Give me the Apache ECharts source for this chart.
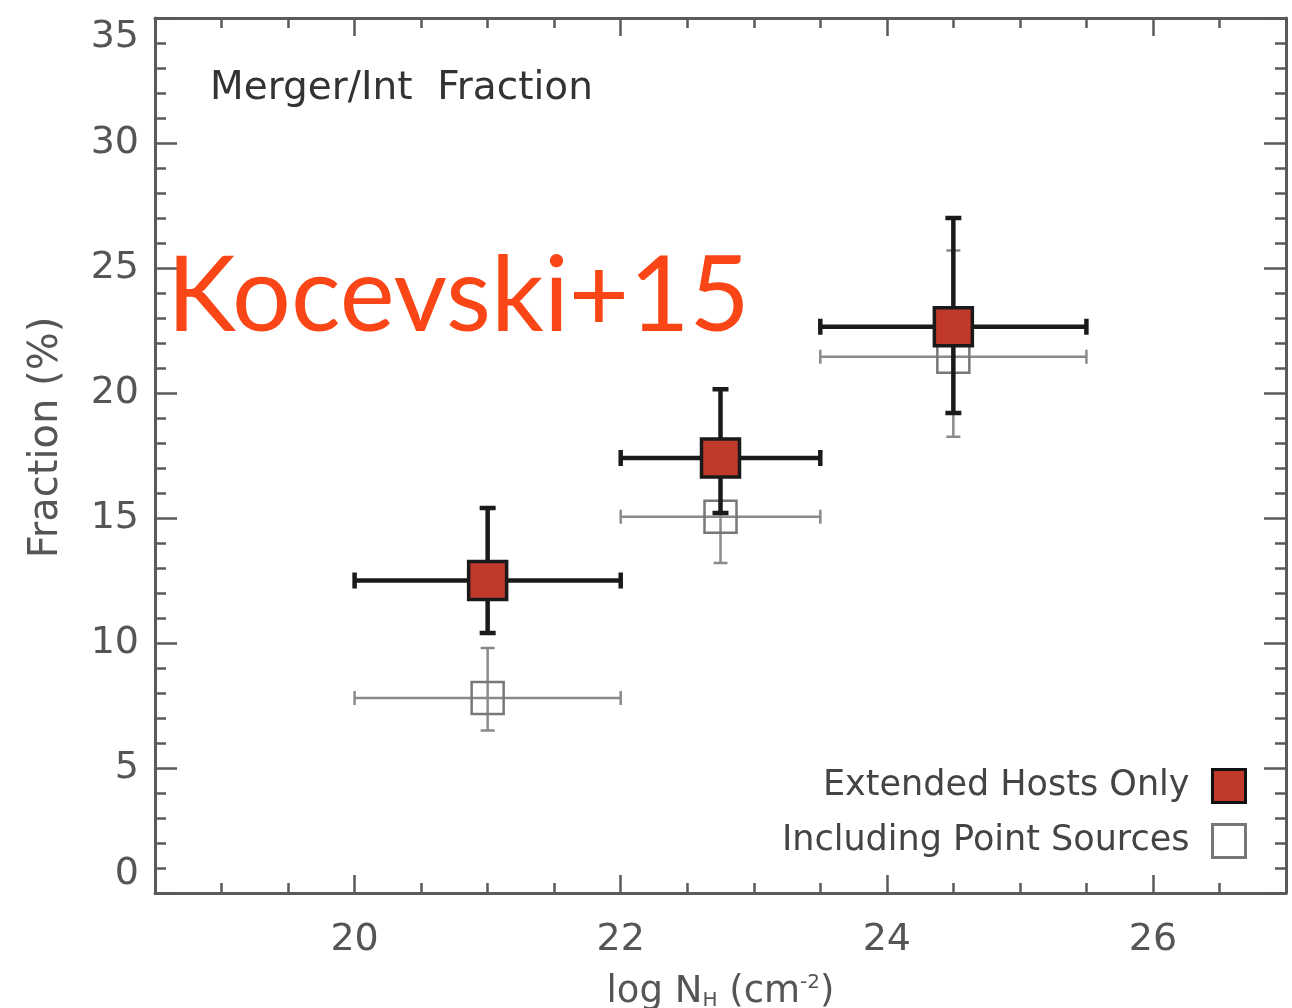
<!DOCTYPE html>
<html>
<head>
<meta charset="utf-8">
<script src="https://cdn.jsdelivr.net/npm/echarts@6/dist/echarts.min.js"></script>
<style>
html,body{margin:0;padding:0;background:#fff;}
#chart{width:1292px;height:1008px;}
</style>
</head>
<body>
<div id="chart"></div>
<script>
// ---- Data ----
const seriesNames = ['Extended Hosts Only', 'Including Point Sources'];
// Extended hosts only (filled red squares)
const extX    = [21.0, 22.75, 24.5];
const extY    = [12.5, 17.4, 22.65];
const extXlo  = [20.0, 22.0, 23.5];
const extXhi  = [22.0, 23.5, 25.5];
const extYlo  = [10.4, 15.2, 19.2];
const extYhi  = [15.4, 20.15, 27.0];
// Including point sources (open grey squares)
const ptsX    = [21.0, 22.75, 24.5];
const ptsY    = [7.8, 15.05, 21.45];
const ptsXlo  = [20.0, 22.0, 23.5];
const ptsXhi  = [22.0, 23.5, 25.5];
const ptsYlo  = [6.5, 13.2, 18.25];
const ptsYhi  = [9.8, 16.9, 25.7];
// Axis ticks
const xMajorTicks = [20, 22, 24, 26];
const yTicks = [0, 5, 10, 15, 20, 25, 30, 35];

function rows(x, y, xlo, xhi, ylo, yhi) {
  return x.map((v, i) => [v, y[i], xlo[i], xhi[i], ylo[i], yhi[i]]);
}

function errRenderer(st) {
  return function (params, api) {
    const x = api.value(0), y = api.value(1);
    const c  = api.coord([x, y]);
    const pl = api.coord([api.value(2), y]);
    const ph = api.coord([api.value(3), y]);
    const pb = api.coord([x, api.value(4)]);
    const pt = api.coord([x, api.value(5)]);
    const ls = { stroke: st.stroke, lineWidth: st.lw, lineCap: 'butt' };
    const h = st.cap / 2, s = st.size / 2;
    const children = [
      { type: 'line', shape: { x1: pl[0], y1: pl[1], x2: ph[0], y2: ph[1] }, style: ls },
      { type: 'line', shape: { x1: pb[0], y1: pb[1], x2: pt[0], y2: pt[1] }, style: ls },
      { type: 'line', shape: { x1: pl[0], y1: pl[1] - h, x2: pl[0], y2: pl[1] + h }, style: ls },
      { type: 'line', shape: { x1: ph[0], y1: ph[1] - h, x2: ph[0], y2: ph[1] + h }, style: ls },
      { type: 'line', shape: { x1: pb[0] - h, y1: pb[1], x2: pb[0] + h, y2: pb[1] }, style: ls },
      { type: 'line', shape: { x1: pt[0] - h, y1: pt[1], x2: pt[0] + h, y2: pt[1] }, style: ls },
      { type: 'rect', shape: { x: c[0] - s, y: c[1] - s, width: 2 * s, height: 2 * s },
        style: { fill: st.fill, stroke: st.boxStroke, lineWidth: st.boxLw } }
    ];
    return { type: 'group', children: children };
  };
}

const axisColor = '#5a5a5a';
const fontFam = 'DejaVu Sans, sans-serif';

function xAx(pos, major, labels) {
  const a = {
    type: 'value', position: pos, min: 18.5, max: 27,
    gridIndex: 0,
    axisLine: { show: major, onZero: false, lineStyle: { color: axisColor, width: 3 } },
    axisTick: { show: true, inside: true, length: major ? 18 : 10, lineStyle: { color: axisColor, width: 2.5 } },
    axisLabel: { show: labels },
    splitLine: { show: false }
  };
  if (major) {
    a.axisTick.customValues = xMajorTicks;
    a.axisLabel.customValues = xMajorTicks;
  } else {
    a.interval = 0.5;
  }
  if (labels) {
    a.axisLabel = { show: true, customValues: xMajorTicks, color: '#555', fontSize: 38, fontFamily: fontFam, margin: 28 };
    a.name = 'log N{sub|H} (cm{sup|-2})';
    a.nameLocation = 'middle';
    a.nameGap = 80;
    a.nameTextStyle = {
      color: '#555', fontSize: 37, fontFamily: fontFam,
      rich: {
        sub: { fontSize: 20, verticalAlign: 'bottom', padding: [18, 0, 0, 0], color: '#555', fontFamily: fontFam },
        sup: { fontSize: 20, verticalAlign: 'top', padding: [0, 0, 18, 0], color: '#555', fontFamily: fontFam }
      }
    };
  }
  return a;
}

function yAx(pos, labels) {
  const a = {
    type: 'value', position: pos, min: 0, max: 35, interval: 5,
    axisLine: { show: true, onZero: false, lineStyle: { color: axisColor, width: 3 } },
    axisTick: { show: true, inside: true, length: 22, lineStyle: { color: axisColor, width: 2.5 } },
    minorTick: { show: true, splitNumber: 5, length: 11, lineStyle: { color: axisColor, width: 2.5 } },
    axisLabel: { show: labels },
    splitLine: { show: false }
  };
  if (labels) {
    a.axisLabel = { show: true, color: '#555', fontSize: 38, fontFamily: fontFam, margin: 16,
      verticalAlignMinLabel: 'bottom', verticalAlignMaxLabel: 'top' };
    a.name = 'Fraction (%)';
    a.nameLocation = 'middle';
    a.nameGap = 88;
    a.nameTextStyle = { color: '#555', fontSize: 40, fontFamily: fontFam, padding: [0, 0, 0, 36] };
  }
  return a;
}

const chart = echarts.init(document.getElementById('chart'), null, { renderer: 'canvas' });
chart.setOption({
  backgroundColor: '#fff',
  animation: false,
  grid: { left: 155, right: 6, top: 18, bottom: 115, containLabel: false, outerBoundsMode: 'none' },
  title: [
    { text: 'Merger/Int  Fraction', left: 205, top: 64,
      textStyle: { color: '#333', fontSize: 39, fontWeight: 'normal', fontFamily: fontFam } },
    { text: 'Kocevski+15', left: 162, top: 240,
      textStyle: { color: '#fa4616', fontSize: 104, fontWeight: 'normal', fontFamily: 'Lato, sans-serif' } }
  ],
  legend: {
    orient: 'vertical', right: 40, top: 763, align: 'right',
    itemWidth: 33, itemHeight: 33, itemGap: 19,
    textStyle: { color: '#444', fontSize: 35, fontFamily: fontFam, padding: [0, 18, 0, 0] },
    data: [
      { name: seriesNames[0], icon: 'rect', itemStyle: { color: '#c0392b', borderColor: '#111', borderWidth: 3 } },
      { name: seriesNames[1], icon: 'rect', itemStyle: { color: '#fff', borderColor: '#777', borderWidth: 3 } }
    ]
  },
  xAxis: [xAx('bottom', true, true), xAx('bottom', false, false), xAx('top', true, false), xAx('top', false, false)],
  yAxis: [yAx('left', true), yAx('right', false)],
  series: [
    {
      name: seriesNames[1], type: 'custom', xAxisIndex: 0, yAxisIndex: 0, z: 2,
      itemStyle: { color: '#fff', borderColor: '#777' },
      encode: { x: 0, y: 1 },
      renderItem: errRenderer({ stroke: '#8a8a8a', lw: 2.5, cap: 14, size: 32, fill: 'rgba(255,255,255,0)', boxStroke: '#777', boxLw: 2.5 }),
      data: rows(ptsX, ptsY, ptsXlo, ptsXhi, ptsYlo, ptsYhi)
    },
    {
      name: seriesNames[0], type: 'custom', xAxisIndex: 0, yAxisIndex: 0, z: 3,
      itemStyle: { color: '#c0392b', borderColor: '#111' },
      encode: { x: 0, y: 1 },
      renderItem: errRenderer({ stroke: '#1a1a1a', lw: 4.5, cap: 16, size: 38, fill: '#c0392b', boxStroke: '#1a1a1a', boxLw: 3.5 }),
      data: rows(extX, extY, extXlo, extXhi, extYlo, extYhi)
    }
  ]
});
</script>
</body>
</html>
